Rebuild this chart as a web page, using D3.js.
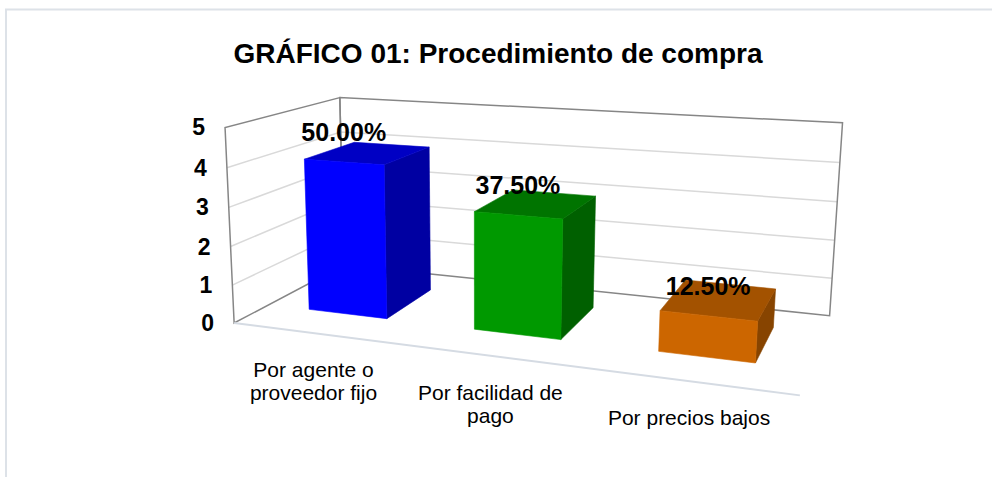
<!DOCTYPE html>
<html><head><meta charset="utf-8">
<script src="https://cdn.jsdelivr.net/npm/d3@7"></script>
<style>body{margin:0;background:#fff} svg{display:block}</style>
</head><body><svg id="c" width="992" height="477"></svg>
<script>
const titleText = "GRÁFICO 01: Procedimiento de compra";
const categories = ["Por agente o proveedor fijo", "Por facilidad de pago", "Por precios bajos"];
const values = [4, 3, 1];
const percentLabels = ["50.00%", "37.50%", "12.50%"];
const yTicks = [0, 1, 2, 3, 4, 5];
const frontColors = ["#0000ff", "#009900", "#cc6600"];
const topColors = ["#0000c4", "#007400", "#a35200"];
const sideColors = ["#0000a2", "#006000", "#874400"];

const svg = d3.select("#c");
const FONT = "'Liberation Sans', Arial, sans-serif";

// world scales
const x = d3.scaleBand().domain(categories).range([0, 3]).paddingInner(0.517).paddingOuter(0.2585);
const y = d3.scaleLinear().domain([0, 5]).range([0, 1]);
const barZ = [0.285, 0.75];

// frame calibration (plot box corners): world (x,y,z) -> screen
const calib = [
  [[0, 0, 0], [236, 322]],
  [[0, 1, 0], [223, 128]],
  [[0, 0, 1], [342, 266]],
  [[0, 1, 1], [342, 97]],
  [[3, 1, 1], [842, 123]],
  [[3, 0, 1], [830, 315]],
  [[3, 0, 0], [800, 396]]
];

function solveLS(rows, rhs) {
  const n = rows[0].length;
  const M = Array.from({length: n}, () => new Array(n + 1).fill(0));
  rows.forEach((r, k) => {
    for (let i = 0; i < n; i++) {
      for (let j = 0; j < n; j++) M[i][j] += r[i] * r[j];
      M[i][n] += r[i] * rhs[k];
    }
  });
  for (let c = 0; c < n; c++) {
    let p = c;
    for (let r = c + 1; r < n; r++) if (Math.abs(M[r][c]) > Math.abs(M[p][c])) p = r;
    [M[c], M[p]] = [M[p], M[c]];
    for (let r = 0; r < n; r++) {
      if (r === c) continue;
      const f = M[r][c] / M[c][c];
      for (let j = c; j <= n; j++) M[r][j] -= f * M[c][j];
    }
  }
  return M.map((row, i) => row[n] / row[i]);
}
const rows = [], rhs = [];
calib.forEach(([[X, Y, Z], [u, v]]) => {
  rows.push([X, Y, Z, 1, 0, 0, 0, 0, -u * X, -u * Y, -u * Z]); rhs.push(u);
  rows.push([0, 0, 0, 0, X, Y, Z, 1, -v * X, -v * Y, -v * Z]); rhs.push(v);
});
const P = solveLS(rows, rhs);
function proj(X, Y, Z) {
  const w = P[8] * X + P[9] * Y + P[10] * Z + 1;
  return [(P[0] * X + P[1] * Y + P[2] * Z + P[3]) / w, (P[4] * X + P[5] * Y + P[6] * Z + P[7]) / w];
}
const line = d3.line();

// outer border
svg.append("rect").attr("x", 6).attr("y", 9.5).attr("width", 1000).attr("height", 500)
  .attr("fill", "none").attr("stroke", "#dde2e8").attr("stroke-width", 2);

// title
svg.append("text").attr("x", 498).attr("y", 63).attr("text-anchor", "middle")
  .attr("font-family", FONT).attr("font-weight", "bold").attr("font-size", 28)
  .attr("fill", "#000").text(titleText);

const X1 = x.range()[1];
// gridlines
const grid = svg.append("g").attr("fill", "none").attr("stroke", "#d9d9d9").attr("stroke-width", 1.5);
yTicks.filter(t => t > 0 && t < 5).forEach(t => {
  grid.append("path").attr("d", line([proj(0, y(t), 0), proj(0, y(t), 1), proj(X1, y(t), 1)]));
});
// walls frame
const frame = svg.append("g").attr("fill", "none").attr("stroke", "#868686").attr("stroke-width", 1.5);
frame.append("path").attr("d", line([proj(0, 0, 0), proj(0, 1, 0), proj(0, 1, 1), proj(0, 0, 1)]) + "Z");
frame.append("path").attr("d", line([proj(0, 0, 1), proj(0, 1, 1), proj(X1, 1, 1), proj(X1, 0, 1)]) + "Z");
// floor front axis line
svg.append("path").attr("d", line([proj(0, 0, 0), proj(X1, 0, 0)]))
  .attr("stroke", "#d5dbe3").attr("stroke-width", 2).attr("fill", "none");

// bars
const bars = svg.append("g");
categories.forEach((c, i) => {
  const x0 = x(c), x1 = x(c) + x.bandwidth(), h = y(values[i]);
  const [z0, z1] = barZ;
  const g = bars.append("g");
  const face = (pts, col) => g.append("path").attr("d", line(pts.map(p => proj(...p))) + "Z")
    .attr("fill", col).attr("stroke", col).attr("stroke-width", 0.6).attr("stroke-linejoin", "round");
  face([[x1, 0, z0], [x1, 0, z1], [x1, h, z1], [x1, h, z0]], sideColors[i]);
  face([[x0, h, z0], [x1, h, z0], [x1, h, z1], [x0, h, z1]], topColors[i]);
  face([[x0, 0, z0], [x1, 0, z0], [x1, h, z0], [x0, h, z0]], frontColors[i]);
});

// y tick labels
yTicks.forEach(t => {
  const p = proj(0, y(t), 0);
  svg.append("text").attr("x", p[0] - 20).attr("y", p[1] + 8).attr("text-anchor", "end")
    .attr("font-family", FONT).attr("font-weight", "bold").attr("font-size", 23).text(t);
});

// data labels
categories.forEach((c, i) => {
  const p = proj(x(c) + x.bandwidth() / 2, y(values[i]), barZ[0]);
  svg.append("text").attr("x", p[0]).attr("y", p[1] - 21).attr("text-anchor", "middle")
    .attr("font-family", FONT).attr("font-weight", "bold").attr("font-size", 25).text(percentLabels[i]);
});

// category labels (wrapped)
categories.forEach((c, i) => {
  const p = proj(x(c) + x.bandwidth() / 2, 0, 0);
  const t = svg.append("text").attr("text-anchor", "middle")
    .attr("font-family", FONT).attr("font-size", 21).attr("fill", "#000");
  const words = c.split(" ");
  let lines = [], cur = [];
  const probe = svg.append("text").attr("font-family", FONT).attr("font-size", 21);
  words.forEach(w => {
    const test = cur.concat(w).join(" ");
    probe.text(test);
    if (probe.node().getComputedTextLength() > 170 && cur.length) { lines.push(cur.join(" ")); cur = [w]; }
    else cur.push(w);
  });
  lines.push(cur.join(" "));
  probe.remove();
  lines.forEach((l, k) => t.append("tspan").attr("x", p[0] - 2).attr("y", p[1] + 44 + k * 23).text(l));
});
</script></body></html>
